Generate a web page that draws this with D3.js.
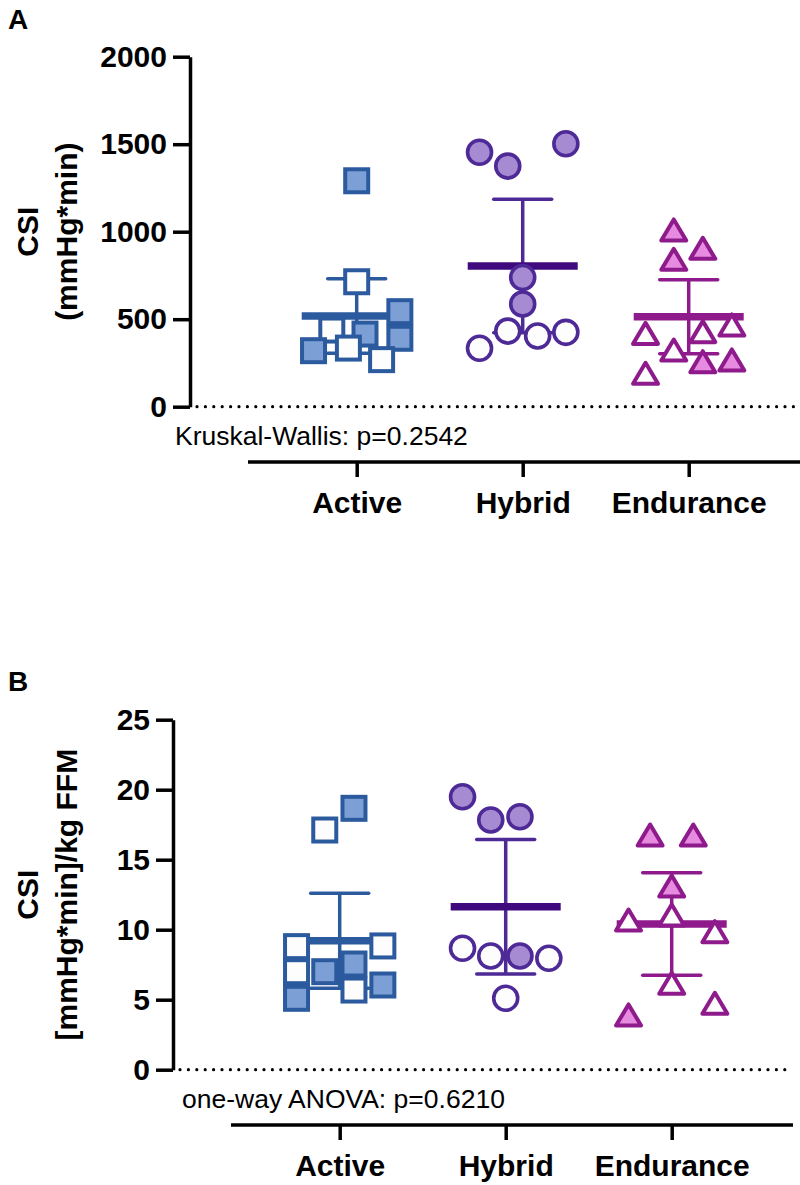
<!DOCTYPE html>
<html><head><meta charset="utf-8">
<script src="https://cdn.jsdelivr.net/npm/d3@7"></script>
<style>
body{margin:0;background:#fff}
svg{display:block}
text{font-family:"Liberation Sans",Arial,Helvetica,sans-serif}
</style>
</head><body>
<svg id="chart" width="800" height="1185"></svg>
<script>
// ---------- data ----------
const categories = ["Active", "Hybrid", "Endurance"];

// Panel A: CSI (mmHg*min)
const yTicksA = [0, 500, 1000, 1500, 2000];
const activeA = [1291, 714, 438, 415, 543, 391, 320, 335, 269];
const activeAFilled = [1, 0, 0, 1, 1, 1, 1, 0, 0];
const activeAJitter = [0, 0, -0.15, 0.05, 0.26, 0.26, -0.26, -0.05, 0.15];
const hybridA = [1454, 1375, 1503, 738, 587, 432, 404, 425, 334];
const hybridAFilled = [1, 1, 1, 1, 1, 0, 0, 0, 0];
const hybridAJitter = [-0.26, -0.09, 0.26, 0, 0, -0.09, 0.09, 0.26, -0.26];
const enduranceA = [1010, 905, 842, 419, 429, 467, 324, 257, 267, 191];
const enduranceAFilled = [1, 1, 1, 0, 0, 0, 0, 1, 1, 0];
const enduranceAJitter = [-0.09, 0.085, -0.09, -0.26, 0.085, 0.26, -0.09, 0.085, 0.26, -0.26];
const meanA = [518, 804, 514];
const errA = [213, 381, 212];

// Panel B: CSI [mmHg*min]/kg FFM
const yTicksB = [0, 5, 10, 15, 20, 25];
const activeB = [18.67, 17.12, 8.79, 8.84, 7.0, 7.0, 7.55, 5.69, 6.05, 5.1];
const activeBFilled = [1, 0, 0, 0, 0, 1, 1, 0, 1, 1];
const activeBJitter = [0.086, -0.09, -0.26, 0.26, -0.26, -0.09, 0.086, 0.086, 0.26, -0.26];
const hybridB = [19.5, 17.84, 18.07, 8.67, 8.12, 8.12, 7.96, 5.1];
const hybridBFilled = [1, 1, 1, 0, 0, 1, 0, 0];
const hybridBJitter = [-0.26, -0.09, 0.086, -0.26, -0.09, 0.086, 0.26, 0];
const enduranceB = [16.76, 16.76, 13.12, 11.05, 10.69, 9.86, 6.17, 4.74, 3.91];
const enduranceBFilled = [1, 1, 1, 0, 0, 0, 0, 0, 1];
const enduranceBJitter = [-0.13, 0.13, 0, 0, -0.26, 0.26, 0, 0.26, -0.26];
const meanB = [9.21, 11.64, 10.41];
const errB = [3.4, 4.8, 3.66];

// ---------- styles ----------
const strokeCol = ["#2C5A9E", "#4E2A97", "#8E1A8C"];
const fillCol = ["#7C9FD6", "#A68BD2", "#E68BE0"];
const meanCol = ["#2C5A9E", "#3E0A7E", "#8E1A8C"];
const shapes = ["square", "circle", "triangle"];
const FONT = '"Liberation Sans",Arial,sans-serif';

const svg = d3.select("#chart");

function drawPanel(g, opt) {
  const y = d3.scaleLinear().domain([0, opt.ymax]).range([406.7, 56.7]);
  const x = d3.scalePoint().domain(categories).range([356.7, 688.7]);
  const step = 166;

  // y axis
  const yAxis = d3.axisLeft(y).tickValues(opt.ticks).tickFormat(d3.format("d"))
    .tickSize(17).tickSizeOuter(0).tickPadding(6);
  const ya = g.append("g").attr("transform", "translate(190,0)").call(yAxis);
  ya.select(".domain").attr("stroke", "#000").attr("stroke-width", 3.5);
  ya.selectAll(".tick line").attr("stroke", "#000").attr("stroke-width", 3.5);
  ya.selectAll(".tick text").attr("font-size", 30).attr("font-weight", "bold")
    .attr("fill", "#000").attr("font-family", FONT);

  // dotted zero line
  g.append("line").attr("x1", 197).attr("x2", 810).attr("y1", y(0)).attr("y2", y(0))
    .attr("stroke", "#000").attr("stroke-width", 3.2).attr("stroke-linecap", "round")
    .attr("stroke-dasharray", "0 8.4");

  // y title
  const tc = (y(0) + y(opt.ymax)) / 2;
  g.append("text").attr("transform", `translate(${38 + opt.titleDx},${tc}) rotate(-90)`)
    .attr("text-anchor", "middle")
    .attr("font-size", 30).attr("font-weight", "bold").text("CSI");
  g.append("text").attr("transform", `translate(${77 + opt.titleDx},${tc}) rotate(-90)`)
    .attr("text-anchor", "middle")
    .attr("font-size", 30).attr("font-weight", "bold").text(opt.unit);

  // stats text
  g.append("text").attr("x", opt.statX).attr("y", 445).attr("font-size", 26.5)
    .attr("fill", "#000").text(opt.stat);

  // x axis
  const xAxis = d3.axisBottom(x).tickSize(15).tickSizeOuter(0).tickPadding(15);
  const xa = g.append("g").attr("transform", "translate(0,462)").call(xAxis);
  xa.select(".domain").attr("d", "M248,0H810").attr("stroke", "#000").attr("stroke-width", 3.5);
  xa.selectAll(".tick line").attr("stroke", "#000").attr("stroke-width", 3.5);
  xa.selectAll(".tick text").attr("font-size", 30).attr("font-weight", "bold")
    .attr("fill", "#000").attr("font-family", FONT);

  // error bars + means
  categories.forEach((c, i) => {
    const cx = x(c);
    const m = opt.mean[i], e = opt.err[i];
    const col = strokeCol[i];
    const eg = g.append("g");
    eg.append("line").attr("x1", cx).attr("x2", cx).attr("y1", y(m - e)).attr("y2", y(m + e))
      .attr("stroke", col).attr("stroke-width", 3.5);
    [m - e, m + e].forEach(v => {
      eg.append("line").attr("x1", cx - 29).attr("x2", cx + 29).attr("y1", y(v)).attr("y2", y(v))
        .attr("stroke", col).attr("stroke-width", 3.5).attr("stroke-linecap", "round");
    });
    eg.append("line").attr("x1", cx - 55).attr("x2", cx + 55).attr("y1", y(m)).attr("y2", y(m))
      .attr("stroke", meanCol[i]).attr("stroke-width", 7.5);
  });

  // points
  opt.groups.forEach((grp, i) => {
    const cx = x(categories[i]);
    const pts = grp.values.map((v, k) => ({v, f: grp.filled[k], j: grp.jitter[k]}));
    const pg = g.append("g");
    pts.forEach(p => {
      const px = cx + p.j * step, py = y(p.v);
      const fill = p.f ? fillCol[i] : "#FDFDFD";
      if (shapes[i] === "square") {
        pg.append("rect").attr("x", px - 11.5).attr("y", py - 11.5).attr("width", 23).attr("height", 23)
          .attr("fill", fill).attr("stroke", strokeCol[i]).attr("stroke-width", 4);
      } else if (shapes[i] === "circle") {
        pg.append("circle").attr("cx", px).attr("cy", py).attr("r", 12)
          .attr("fill", fill).attr("stroke", strokeCol[i]).attr("stroke-width", 3.6);
      } else {
        const w = 12.5, h = 21;
        pg.append("path").attr("d", `M${px},${py - h / 2}L${px + w},${py + h / 2}L${px - w},${py + h / 2}Z`)
          .attr("fill", fill).attr("stroke", strokeCol[i]).attr("stroke-width", 4)
          .attr("stroke-linejoin", "round");
      }
    });
  });
}

// Panel A
svg.append("text").attr("x", 8).attr("y", 29).attr("font-size", 28).attr("font-weight", "bold").text("A");
drawPanel(svg.append("g"), {
  ymax: 2000, ticks: yTicksA, unit: "(mmHg*min)", stat: "Kruskal-Wallis: p=0.2542", statX: 175,
  titleDx: 0, mean: meanA, err: errA,
  groups: [
    {values: activeA, filled: activeAFilled, jitter: activeAJitter},
    {values: hybridA, filled: hybridAFilled, jitter: hybridAJitter},
    {values: enduranceA, filled: enduranceAFilled, jitter: enduranceAJitter}
  ]
});

// Panel B
svg.append("text").attr("x", 8).attr("y", 691).attr("font-size", 28).attr("font-weight", "bold").text("B");
drawPanel(svg.append("g").attr("transform", "translate(-17,663)"), {
  ymax: 25, ticks: yTicksB, unit: "[mmHg*min]/kg FFM", stat: "one-way ANOVA: p=0.6210", statX: 199,
  titleDx: 17, mean: meanB, err: errB,
  groups: [
    {values: activeB, filled: activeBFilled, jitter: activeBJitter},
    {values: hybridB, filled: hybridBFilled, jitter: hybridBJitter},
    {values: enduranceB, filled: enduranceBFilled, jitter: enduranceBJitter}
  ]
});
</script>
</body></html>
